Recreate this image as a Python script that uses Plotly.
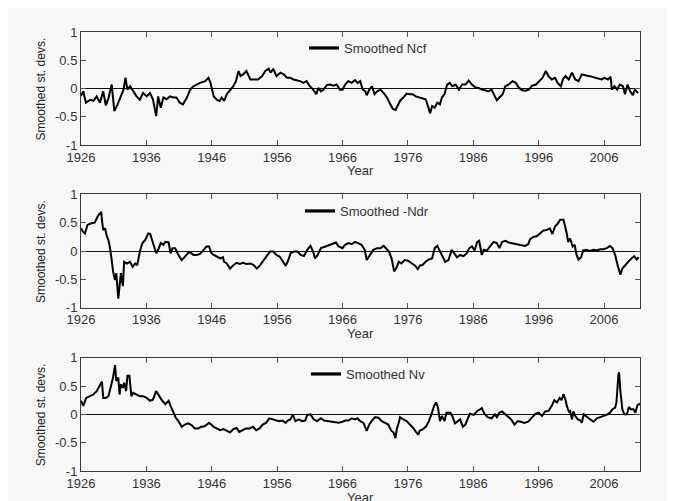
import plotly.graph_objects as go

# ---------------- data ----------------
ncf_year = [1926.0, 1926.35, 1926.75, 1927.4, 1927.9, 1928.4, 1928.9, 1929.4, 1929.8, 1930.2,
            1930.7, 1931.1, 1931.6, 1932.1, 1932.5, 1932.8, 1933.1, 1933.5, 1934.0, 1934.5,
            1935.0, 1935.5, 1936.05, 1936.55, 1937.0, 1937.5, 1937.8, 1938.2, 1938.6, 1939.1,
            1939.6, 1940.1, 1940.6, 1941.1, 1941.6, 1942.2, 1942.7, 1943.2, 1943.7, 1944.2,
            1945.0, 1945.5, 1945.8, 1946.3, 1946.8, 1947.2, 1947.5, 1947.9, 1948.3, 1948.8,
            1949.3, 1949.7, 1950.1, 1950.4, 1950.8, 1951.3, 1951.9, 1952.4, 1953.1, 1953.7,
            1954.2, 1954.7, 1955.0, 1955.4, 1955.9, 1956.5, 1957.0, 1957.5, 1958.0, 1958.5,
            1959.0, 1959.5, 1960.0, 1960.5, 1961.0, 1961.5, 1962.0, 1962.3, 1962.7, 1963.1,
            1963.6, 1964.1, 1964.6, 1965.1, 1965.6, 1966.0, 1966.4, 1966.9, 1967.4, 1967.9,
            1968.3, 1968.7, 1969.1, 1969.5, 1969.7, 1970.1, 1970.5, 1970.9, 1971.3, 1971.8,
            1972.3, 1972.8, 1973.3, 1973.7, 1974.1, 1974.5, 1974.8, 1975.3, 1975.8, 1976.2,
            1976.7, 1977.2, 1977.7, 1978.2, 1978.7, 1978.9, 1979.4, 1979.7, 1980.1, 1980.5,
            1980.9, 1981.2, 1981.6, 1982.0, 1982.4, 1982.8, 1983.3, 1983.8, 1984.3, 1984.8,
            1985.3, 1985.8, 1986.3, 1986.8, 1987.3, 1987.8, 1988.3, 1988.8, 1989.3, 1989.6,
            1990.0, 1990.5, 1990.9, 1991.4, 1992.0, 1992.5, 1993.0, 1993.5, 1994.0, 1994.5,
            1995.0, 1995.6, 1996.1, 1996.6, 1997.1, 1997.5, 1998.0, 1998.5, 1998.9, 1999.4,
            1999.7, 2000.1, 2000.6, 2001.1, 2001.6, 2002.1, 2002.6, 2003.1, 2003.6, 2004.1,
            2004.6, 2005.1, 2005.6, 2006.1, 2006.6, 2007.0, 2007.2, 2007.6, 2008.0, 2008.4,
            2008.9, 2009.2, 2009.6, 2010.0, 2010.4, 2010.7, 2011.2]
ncf_val = [-0.13, -0.05, -0.25, -0.2, -0.22, -0.14, -0.25, -0.05, -0.3, -0.17,
           0.07, -0.4, -0.28, -0.14, -0.02, 0.19, -0.02, 0.04, -0.05, -0.14,
           -0.2, -0.08, -0.14, -0.08, -0.19, -0.49, -0.14, -0.34, -0.16, -0.19,
           -0.14, -0.16, -0.16, -0.25, -0.28, -0.16, -0.02, 0.04, 0.07, 0.1,
           0.13, 0.19, 0.1, -0.14, -0.2, -0.22, -0.16, -0.22, -0.1, -0.02,
           0.04, 0.13, 0.31, 0.22, 0.25, 0.31, 0.16, 0.16, 0.16, 0.22,
           0.31, 0.35, 0.28, 0.35, 0.22, 0.28, 0.25, 0.19, 0.19, 0.16,
           0.15, 0.13, 0.1, 0.13, 0.04, -0.02, -0.1, 0.01, -0.05, -0.02,
           0.06, 0.07, 0.05, 0.07, -0.02, -0.02, 0.07, 0.13, 0.1, 0.15,
           0.1, 0.13, -0.02, -0.05, -0.12, -0.02, 0.04, -0.1, -0.05, -0.02,
           -0.08, -0.16, -0.28, -0.36, -0.38, -0.28, -0.22, -0.16, -0.09, -0.1,
           -0.1, -0.14, -0.16, -0.18, -0.19, -0.25, -0.44, -0.31, -0.34, -0.25,
           -0.28, -0.16, -0.1, 0.07, 0.1, 0.04, 0.07, -0.02, 0.07, 0.07,
           0.14, 0.07, 0.02, 0.01, -0.02, -0.03, -0.05, -0.02, -0.14, -0.21,
           -0.16, -0.1, 0.04, 0.07, 0.13, 0.1, 0.01, -0.03, -0.04, -0.02,
           0.05, 0.07, 0.13, 0.19, 0.31, 0.22, 0.16, 0.19, 0.1, 0.04,
           0.16, 0.22, 0.16, 0.28, 0.16, 0.13, 0.25, 0.23, 0.22, 0.21,
           0.19, 0.17, 0.16, 0.19, 0.16, 0.21, -0.02, 0.04, -0.02, 0.07,
           0.04, -0.1, 0.07, -0.05, -0.12, -0.02, -0.08]

ndr_year = [1926.0, 1926.3, 1926.6, 1927.0, 1927.6, 1928.1, 1928.6, 1928.9, 1929.1, 1929.2,
            1929.4, 1929.7, 1929.9, 1930.2, 1930.4, 1930.7, 1930.9, 1931.2, 1931.4, 1931.7,
            1931.9, 1932.1, 1932.4, 1932.6, 1933.0, 1933.5, 1933.9, 1934.3, 1934.6, 1935.0,
            1935.4, 1935.8, 1936.3, 1936.6, 1936.8, 1937.2, 1937.5, 1937.8, 1938.2, 1938.6,
            1938.9, 1939.4, 1939.7, 1940.0, 1940.4, 1940.9, 1941.4, 1941.9, 1942.4, 1942.8,
            1943.2, 1943.7, 1944.2, 1944.7, 1945.2, 1945.6, 1945.9, 1946.3, 1946.8, 1947.3,
            1947.7, 1947.9, 1948.3, 1948.8, 1949.3, 1949.8, 1950.3, 1950.8, 1951.3, 1951.9,
            1952.4, 1952.9, 1953.4, 1953.9, 1954.4, 1954.9, 1955.4, 1955.9, 1956.4, 1956.9,
            1957.3, 1957.6, 1958.1, 1958.6, 1959.1, 1959.6, 1960.1, 1960.6, 1961.1, 1961.5,
            1961.8, 1962.2, 1962.7, 1963.4, 1964.2, 1965.0, 1965.4, 1966.0, 1966.4, 1966.9,
            1967.4, 1967.9, 1968.4, 1968.9, 1969.4, 1969.7, 1970.2, 1970.7, 1971.3, 1971.8,
            1972.3, 1972.8, 1973.1, 1973.5, 1973.9, 1974.3, 1974.6, 1975.0, 1975.5, 1976.0,
            1976.6, 1977.1, 1977.5, 1977.9, 1978.2, 1978.7, 1979.2, 1979.7, 1980.1, 1980.5,
            1980.8, 1981.2, 1981.7, 1982.2, 1982.7, 1983.1, 1983.5, 1984.0, 1984.5, 1985.0,
            1985.4, 1985.8, 1986.2, 1986.6, 1986.9, 1987.3, 1987.6, 1988.1, 1988.6, 1989.1,
            1989.6, 1990.0, 1990.4, 1990.9, 1991.4, 1991.9, 1992.4, 1992.9, 1993.4, 1993.9,
            1994.4, 1994.7, 1995.2, 1995.7, 1996.2, 1996.7, 1997.2, 1997.7, 1998.1, 1998.5,
            1998.9, 1999.3, 1999.8, 2000.0, 2000.3, 2000.5, 2000.8, 2001.2, 2001.5, 2001.8,
            2002.1, 2002.5, 2002.8, 2003.3, 2003.8, 2004.4, 2004.9, 2005.4, 2005.9, 2006.4,
            2006.9, 2007.3, 2007.7, 2008.1, 2008.5, 2008.8, 2009.2, 2009.7, 2010.2, 2010.6,
            2011.0, 2011.3]
ndr_val = [0.40, 0.34, 0.31, 0.46, 0.49, 0.5, 0.62, 0.66, 0.69, 0.55,
           0.37, 0.4, 0.28, 0.19, 0.08, -0.16, -0.36, -0.51, -0.39, -0.84,
           -0.54, -0.39, -0.62, -0.19, -0.22, -0.19, -0.28, -0.22, -0.25, -0.01,
           0.14, 0.19, 0.31, 0.3, 0.22, 0.08, -0.04, 0.02, 0.14, 0.11,
           0.16, 0.15, -0.04, 0.05, 0.05, -0.07, -0.16, -0.1, -0.03, -0.03,
           -0.07, -0.07, -0.05, 0.01, 0.08, 0.08, -0.03, -0.07, -0.1, -0.13,
           -0.11, -0.19, -0.22, -0.31, -0.25, -0.21, -0.23, -0.21, -0.23, -0.22,
           -0.25, -0.31, -0.25, -0.17, -0.1, -0.01, -0.01, -0.07, -0.1, -0.19,
           -0.26, -0.19, -0.03, -0.01, -0.01, -0.07, -0.09, 0.02, 0.09, -0.01,
           -0.13, -0.07, 0.05, 0.08, 0.11, 0.15, 0.08, 0.05, 0.11, 0.14,
           0.12, 0.16, 0.14, 0.11, 0.02, -0.16, -0.07, 0.02, 0.05, 0.05,
           0.09, 0.02, -0.01, -0.13, -0.36, -0.28, -0.19, -0.22, -0.16, -0.17,
           -0.22, -0.26, -0.32, -0.25, -0.25, -0.19, -0.15, -0.13, 0.05, 0.09,
           0.02, -0.07, -0.19, -0.16, 0.02, -0.04, -0.11, -0.07, -0.09, -0.04,
           0.05, 0.08, 0.01, 0.16, 0.18, -0.07, 0.02, 0.01, 0.08, 0.16,
           0.14, 0.05, 0.16, 0.18, 0.15, 0.14, 0.12, 0.12, 0.11, 0.09,
           0.12, 0.21, 0.25, 0.26, 0.31, 0.36, 0.37, 0.4, 0.3, 0.43,
           0.48, 0.55, 0.55, 0.46, 0.31, 0.16, 0.22, 0.08, 0.11, -0.07,
           -0.15, -0.11, 0.01, 0.02, 0.0, 0.02, 0.01, 0.03, 0.03, 0.05,
           0.09, 0.05, -0.07, -0.26, -0.42, -0.31, -0.25, -0.19, -0.13, -0.09,
           -0.15, -0.11]

nv_year = [1926.0, 1926.35, 1926.8, 1927.4, 1927.9, 1928.4, 1928.8, 1929.2, 1929.4, 1929.8,
           1930.2, 1930.4, 1930.7, 1930.9, 1931.2, 1931.4, 1931.7, 1931.9, 1932.1, 1932.4,
           1932.6, 1932.9, 1933.1, 1933.4, 1933.7, 1934.0, 1934.5, 1935.0, 1935.5, 1936.05,
           1936.55, 1937.0, 1937.5, 1937.8, 1938.3, 1938.9, 1939.4, 1939.7, 1940.1, 1940.5,
           1940.9, 1941.4, 1941.9, 1942.4, 1942.9, 1943.4, 1943.9, 1944.4, 1944.9, 1945.6,
           1946.3, 1946.8, 1947.3, 1947.8, 1948.3, 1948.8, 1949.3, 1949.8, 1950.2, 1950.7,
           1951.2, 1951.8, 1952.3, 1952.8, 1953.3, 1953.8, 1954.3, 1954.8, 1955.3, 1955.8,
           1956.3, 1956.8, 1957.3, 1957.6, 1958.0, 1958.4, 1958.8, 1959.3, 1959.8, 1960.3,
           1960.6, 1961.1, 1961.6, 1962.1, 1962.7, 1963.2, 1963.7, 1964.2, 1965.0, 1965.4,
           1966.0, 1966.4, 1966.9, 1967.4, 1967.9, 1968.3, 1968.7, 1969.2, 1969.7, 1970.1,
           1970.5, 1971.0, 1971.5, 1972.0, 1972.5, 1973.0, 1973.4, 1973.8, 1974.1, 1974.3,
           1974.6, 1974.8, 1975.3, 1975.8, 1976.3, 1976.8, 1977.3, 1977.6, 1977.8, 1978.3,
           1978.8, 1979.2, 1979.6, 1980.0, 1980.3, 1980.6, 1980.9, 1981.2, 1981.6, 1981.9,
           1982.5, 1982.8, 1983.2, 1983.6, 1984.0, 1984.4, 1984.8, 1985.2, 1985.5, 1986.1,
           1986.6, 1987.1, 1987.3, 1987.7, 1988.2, 1988.8, 1989.3, 1989.6, 1990.0, 1990.4,
           1990.9, 1991.3, 1991.8, 1992.3, 1992.8, 1993.3, 1993.8, 1994.4, 1994.9, 1995.5,
           1996.0, 1996.5, 1997.0, 1997.5, 1998.0, 1998.4, 1998.8, 1999.2, 1999.5, 1999.8,
           2000.1, 2000.3, 2000.6, 2000.8, 2001.1, 2001.3, 2001.6, 2002.0, 2002.4, 2002.6,
           2002.9, 2003.4, 2003.9, 2004.4, 2004.9, 2005.4, 2005.9, 2006.4, 2006.9, 2007.3,
           2007.7, 2007.9, 2008.2, 2008.3, 2008.5, 2008.8, 2009.1, 2009.5, 2009.8, 2010.1,
           2010.5, 2010.8, 2011.1, 2011.5]
nv_val = [0.24, 0.15, 0.29, 0.32, 0.35, 0.41, 0.5, 0.58, 0.29, 0.29,
          0.32, 0.41, 0.56, 0.65, 0.87, 0.59, 0.65, 0.35, 0.53, 0.47,
          0.56, 0.41, 0.68, 0.68, 0.32, 0.38, 0.35, 0.32, 0.32, 0.29,
          0.24, 0.26, 0.41, 0.35, 0.26, 0.18, 0.24, 0.15, 0.03, -0.06,
          -0.12, -0.22, -0.18, -0.16, -0.19, -0.25, -0.25, -0.22, -0.21, -0.15,
          -0.22, -0.25, -0.28, -0.26, -0.29, -0.32, -0.26, -0.24, -0.31, -0.28,
          -0.25, -0.25, -0.22, -0.28, -0.25, -0.18, -0.15, -0.07, -0.09, -0.11,
          -0.12, -0.11, -0.15, -0.11, -0.09, -0.01, -0.12, -0.09, -0.12, -0.11,
          -0.01, 0.0, -0.09, -0.12, -0.07, -0.11, -0.12, -0.13, -0.15, -0.15,
          -0.13, -0.11, -0.11, -0.07, -0.09, -0.07, -0.12, -0.15, -0.29, -0.18,
          -0.11, -0.05, -0.06, -0.12, -0.15, -0.18, -0.28, -0.32, -0.42, -0.26,
          -0.15, -0.05, -0.09, -0.12, -0.18, -0.24, -0.32, -0.36, -0.29, -0.26,
          -0.21, -0.12, 0.0, 0.15, 0.21, 0.12, -0.12, -0.03, -0.12, 0.03,
          0.03, -0.03, -0.16, -0.12, -0.09, -0.22, -0.18, -0.06, 0.01, -0.01,
          0.06, 0.09, 0.11, 0.01, -0.05, -0.07, 0.0, -0.05, 0.03, 0.05,
          0.0, -0.03, -0.09, -0.18, -0.12, -0.13, -0.15, -0.13, -0.06, 0.01,
          0.03, -0.03, 0.05, 0.06, 0.15, 0.25, 0.21, 0.29, 0.25, 0.36,
          0.26, 0.15, 0.05, 0.06, -0.09, 0.05, -0.03, -0.09, -0.11, -0.15,
          0.0, -0.05, -0.09, -0.13, -0.07, -0.05, -0.03, -0.01, 0.03, 0.09,
          0.12, 0.21, 0.71, 0.74, 0.41, 0.09, 0.0, 0.0, 0.13, 0.09,
          0.09, 0.03, 0.16, 0.19]

series_names = ["Smoothed Ncf", "Smoothed -Ndr", "Smoothed Nv"]
x_ticks = [1926, 1936, 1946, 1956, 1966, 1976, 1986, 1996, 2006]
y_ticks = [-1, -0.5, 0, 0.5, 1]
y_ticklabels = ["-1", "-0.5", "0", "0.5", "1"]
x_range = [1926, 2011.5]
y_range = [-1, 1]
y_title = "Smoothed st. devs."
x_title = "Year"

# ---------------- layout geometry ----------------
W, H = 675, 501
OFF = 8  # the page body adds an 8px margin; positions below are screen px
FONT = "Liberation Sans, Arial, sans-serif"


def px_x(v):
    return (v - OFF) / W


def px_y(v):
    return 1 - (v - OFF) / H


x_dom = [px_x(81), px_x(640)]
panels_px = [(32, 145), (194.3, 307.7), (357.7, 471)]  # (top, bottom) screen px
legend_y_px = [48, 211, 374]
legend_x_px = [304, 300, 306]

fig = go.Figure()
data = [(ncf_year, ncf_val), (ndr_year, ndr_val), (nv_year, nv_val)]

for i, ((xs, ys), name) in enumerate(zip(data, series_names)):
    n = "" if i == 0 else str(i + 1)
    fig.add_trace(go.Scatter(x=xs, y=ys, mode="lines", name=name,
                             line=dict(color="black", width=2),
                             xaxis="x" + n, yaxis="y" + n, showlegend=False))
    # legend-only entry (thicker sample line like the original)
    fig.add_trace(go.Scatter(x=[None], y=[None], mode="lines", name=name,
                             line=dict(color="black", width=3.2),
                             xaxis="x" + n, yaxis="y" + n,
                             legend="legend" + n, showlegend=True))

layout = dict(
    width=W, height=H,
    margin=dict(l=0, r=0, t=0, b=0, pad=0, autoexpand=False),
    paper_bgcolor="white",
    plot_bgcolor="rgba(0,0,0,0)",
    font=dict(family=FONT, size=13, color="#333333"),
    shapes=[dict(type="rect", xref="paper", yref="paper",
                 x0=0, x1=px_x(672), y0=px_y(501), y1=1,
                 fillcolor="#f7f7f7", line=dict(width=0), layer="below")],
    annotations=[],
)

for i, (top, bot) in enumerate(panels_px):
    n = "" if i == 0 else str(i + 1)
    layout["xaxis" + n] = dict(
        domain=x_dom, anchor="y" + n, range=x_range,
        tickmode="array", tickvals=x_ticks,
        ticks="inside", ticklen=5, tickcolor="#555555", tickwidth=1,
        showline=True, linecolor="#3a3a3a", linewidth=1, mirror="ticks",
        showgrid=False, zeroline=False, automargin=False,
        tickfont=dict(size=13, color="#333333"),
    )
    layout["yaxis" + n] = dict(
        domain=[px_y(bot), px_y(top)], anchor="x" + n, range=y_range,
        tickmode="array", tickvals=y_ticks, ticktext=y_ticklabels,
        ticks="inside", ticklen=5, tickcolor="#555555", tickwidth=1,
        showline=True, linecolor="#3a3a3a", linewidth=1, mirror="ticks",
        showgrid=False, zeroline=True, zerolinecolor="#111111", zerolinewidth=1,
        automargin=False,
        tickfont=dict(size=13, color="#333333"),
    )
    layout["legend" + n] = dict(
        x=px_x(legend_x_px[i]), xanchor="left",
        y=px_y(legend_y_px[i]), yanchor="middle",
        bgcolor="rgba(0,0,0,0)", borderwidth=0,
        font=dict(family=FONT, size=13, color="#333333"),
    )
    # y-axis title
    layout["annotations"].append(dict(
        text=y_title, xref="paper", yref="paper",
        x=px_x(41), y=px_y((top + bot) / 2 + 1),
        xanchor="center", yanchor="middle", textangle=-90, showarrow=False,
        font=dict(family=FONT, size=12, color="#222222")))
    # x-axis title
    layout["annotations"].append(dict(
        text=x_title, xref="paper", yref="paper",
        x=(x_dom[0] + x_dom[1]) / 2, y=px_y(bot + 26),
        xanchor="center", yanchor="middle", showarrow=False,
        font=dict(family=FONT, size=13, color="#333333")))

fig.update_layout(**layout)
fig.write_html("out.html")
